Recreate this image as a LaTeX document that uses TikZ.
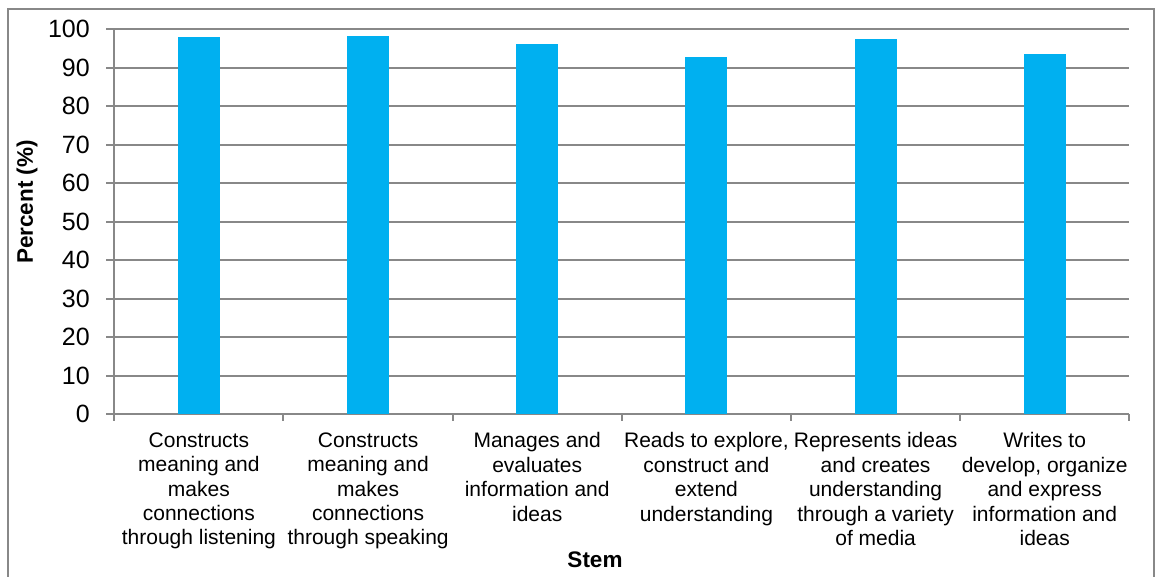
\documentclass[tikz,border=0pt]{standalone}
\usepackage{fontspec}
\setmainfont{Liberation Sans}
\definecolor{barblue}{HTML}{00B0F0}
\definecolor{gridgrey}{HTML}{888888}

\begin{document}
\begin{tikzpicture}[x=1pt,y=-1pt]
  \tikzstyle{every node}+=[inner sep=0pt]
  \tikzstyle{ticklabel}=[anchor=east,font=\fontsize{25}{30}\selectfont]
  \tikzstyle{catlabel}=[anchor=north,align=center,font=\fontsize{21}{24.4}\selectfont]
  \tikzstyle{axistitle}=[font=\bfseries\fontsize{22.5}{27}\selectfont]
  \useasboundingbox (0,0) rectangle (1159,576);
  \fill [white] (0,0) rectangle (1159,576);
  % chart frame, open at the bottom
  \draw [gridgrey, line width=1.5pt] (8,600) -- (8,9) -- (1154,9) -- (1154,600);
  % gridlines and value labels
  \foreach \v in {0,10,...,100} {
    \draw [gridgrey, line width=2pt] (106,{414.3-3.85*\v}) -- (1129.3,{414.3-3.85*\v});
    \node [ticklabel] (y\v) at (90,{414.3-3.85*\v}) {\v};
  }
  \draw [gridgrey, line width=2pt] (114.3,29.3) -- (114.3,420.7);
  \foreach \i in {1,...,6}
    \draw [gridgrey, line width=2pt] ({114.3+169.17*\i},414.3) -- ({114.3+169.17*\i},420.7);
  % bars
  \foreach \v [count=\i] in {98.0,98.3,96.2,92.9,97.4,93.6}
    \fill [barblue] ({114.3+169.17*(\i-0.5)-21},414.3) rectangle ({114.3+169.17*(\i-0.5)+21},{414.3-3.85*\v});
  % category labels
  \node [catlabel] (c1) at (198.9,432.5) {Constructs\\meaning and\\makes\\connections\\through listening};
  \node [catlabel] (c2) at (368.1,432.5) {Constructs\\meaning and\\makes\\connections\\through speaking};
  \node [catlabel] (c3) at (537.2,432.5) {Manages and\\evaluates\\information and\\ideas};
  \node [catlabel] (c4) at (706.4,432.5) {Reads to explore,\\construct and\\extend\\understanding};
  \node [catlabel] (c5) at (875.6,432.5) {Represents ideas\\and creates\\understanding\\through a variety\\of media};
  \node [catlabel] (c6) at (1044.7,432.5) {Writes to\\develop, organize\\and express\\information and\\ideas};
  % axis titles
  \node [axistitle, rotate=90] (ytitle) at (27,202) {Percent (\%)};
  \node [axistitle] (xtitle) at (595,560) {Stem};
\end{tikzpicture}
\end{document}
